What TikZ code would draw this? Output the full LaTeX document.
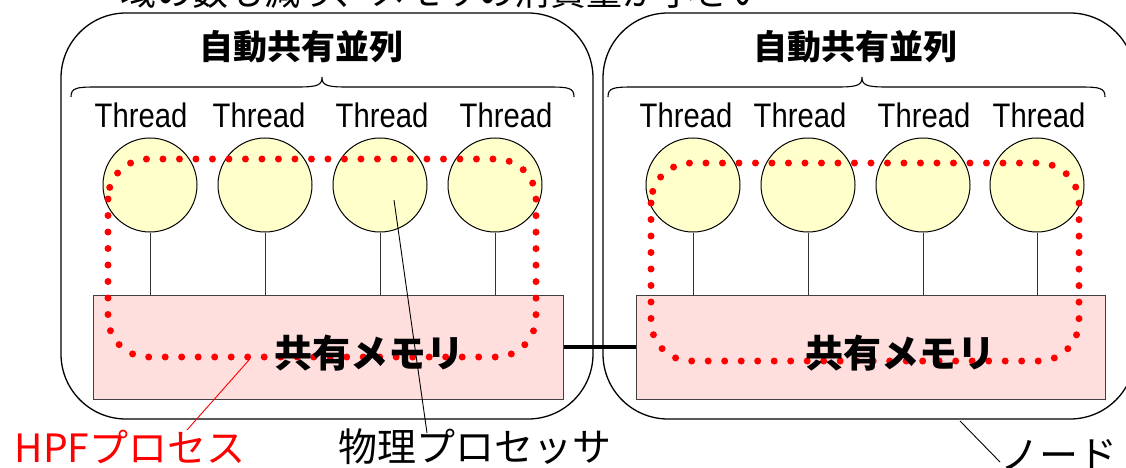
\documentclass[tikz,border=0pt]{standalone}
\usepackage{fontspec}
\setmainfont{Liberation Sans}
\newfontfamily\jp{Noto Sans CJK JP}
\newfontfamily\thr[FakeStretch=0.86]{Liberation Sans}
\definecolor{threadfill}{RGB}{255,255,204}
\definecolor{memfill}{RGB}{255,222,222}
\definecolor{memline}{RGB}{64,64,64}
\tikzset{
  nodebox/.style={draw, line width=1.3pt, rounded corners=65pt, minimum width=532pt, minimum height=406pt, inner sep=0pt},
  thrd/.style={circle, draw, fill=threadfill, minimum size=94pt, inner sep=0pt, line width=1pt},
  mem/.style={rectangle, draw=memline, fill=memfill, line width=1pt, inner sep=0pt, minimum height=104pt},
  stem/.style={draw=black!80, line width=1pt},
  hpfpath/.style={draw=red, line width=7pt, line cap=round, dash pattern=on 0pt off 16.5pt, rounded corners=40pt},
  title/.style={font=\jp\bfseries\fontsize{34}{40}\selectfont, inner sep=0pt},
  thlabel/.style={font=\thr\fontsize{34}{40}\selectfont, inner sep=0pt},
  memlabel/.style={font=\jp\bfseries\fontsize{38}{44}\selectfont, inner sep=0pt},
  callout/.style={font=\jp\fontsize{39}{46}\selectfont, inner sep=0pt},
  bracestyle/.style={draw, line width=1.1pt},
  leader/.style={draw, line width=0.9pt}
}
\begin{document}
\begin{tikzpicture}[x=1pt,y=-1pt]
\useasboundingbox (0,0) rectangle (1126,468);
\clip (0,0) rectangle (1126,468);

% clipped heading
\node[anchor=base west, font=\jp\fontsize{36}{42}\selectfont, inner sep=0pt] (head) at (120,5.5) {域の数も減り、メモリの消費量が小さい};

% node boxes
\node[nodebox] (n1) at (327,216) {};
\node[nodebox] (n2) at (869,216) {};

% titles
\node[title] (t1) at (301,47) {自動共有並列};
\node[title] (t2) at (855,47) {自動共有並列};

% braces
\draw[bracestyle] (71,97) .. controls (71,88) and (76,87) .. (96,87) -- (298,87) .. controls (318,87) and (322,85) .. (322,77) .. controls (322,85) and (326,87) .. (346,87) -- (549,87) .. controls (569,87) and (574,88) .. (574,97);
\draw[bracestyle] (608,97) .. controls (608,88) and (613,87) .. (633,87) -- (838,87) .. controls (858,87) and (862,85) .. (862,77) .. controls (862,85) and (866,87) .. (886,87) -- (1080,87) .. controls (1100,87) and (1105,88) .. (1105,97);

% Thread labels
\foreach \i/\x in {1/141,2/259,3/382,4/506,5/686,6/800,7/924,8/1039}{
  \node[thlabel] (th\i) at (\x,115.5) {Thread};
}

% memories
\node[mem, minimum width=470pt] (m1) at (328,347) {};
\node[mem, minimum width=469pt] (m2) at (870.5,347) {};

% memory link
\draw[line width=4pt] (m1.east) -- (m2.west);

% processors
\foreach \i/\x in {1/150,2/265,3/380,4/495}{
  \node[thrd] (c\i) at (\x,185) {};
  \draw[stem] (c\i.south) -- (c\i.south |- m1.north);
}
\foreach \i/\x in {5/693,6/808,7/923,8/1037}{
  \node[thrd] (c\i) at (\x,185) {};
  \draw[stem] (c\i.south) -- (c\i.south |- m2.north);
}

% HPF process dotted outlines
\draw[hpfpath] (108,159) rectangle (536,357);
\draw[hpfpath] (651,163) rectangle (1079,361);

% memory labels
\node[memlabel] (ml1) at (369,353) {共有メモリ};
\node[memlabel] (ml2) at (900,353) {共有メモリ};

% callouts
\node[callout, text=red] (hpf) at (130,447) {HPFプロセス};
\node[callout] (proc) at (475,447) {物理プロセッサ};
\node[callout, anchor=west] (nd) at (1000,455) {ノード};

\coordinate (hpfA) at (187,430);
\coordinate (hpfB) at (249,360);
\draw[leader, red] (hpfA) -- (hpfB);
\coordinate (procA) at (427,433);
\coordinate (procB) at (394,200);
\draw[leader] (procA) -- (procB);
\coordinate (ndA) at (1000,462);
\coordinate (ndB) at (960,421);
\draw[leader] (ndA) -- (ndB);
\end{tikzpicture}
\end{document}
